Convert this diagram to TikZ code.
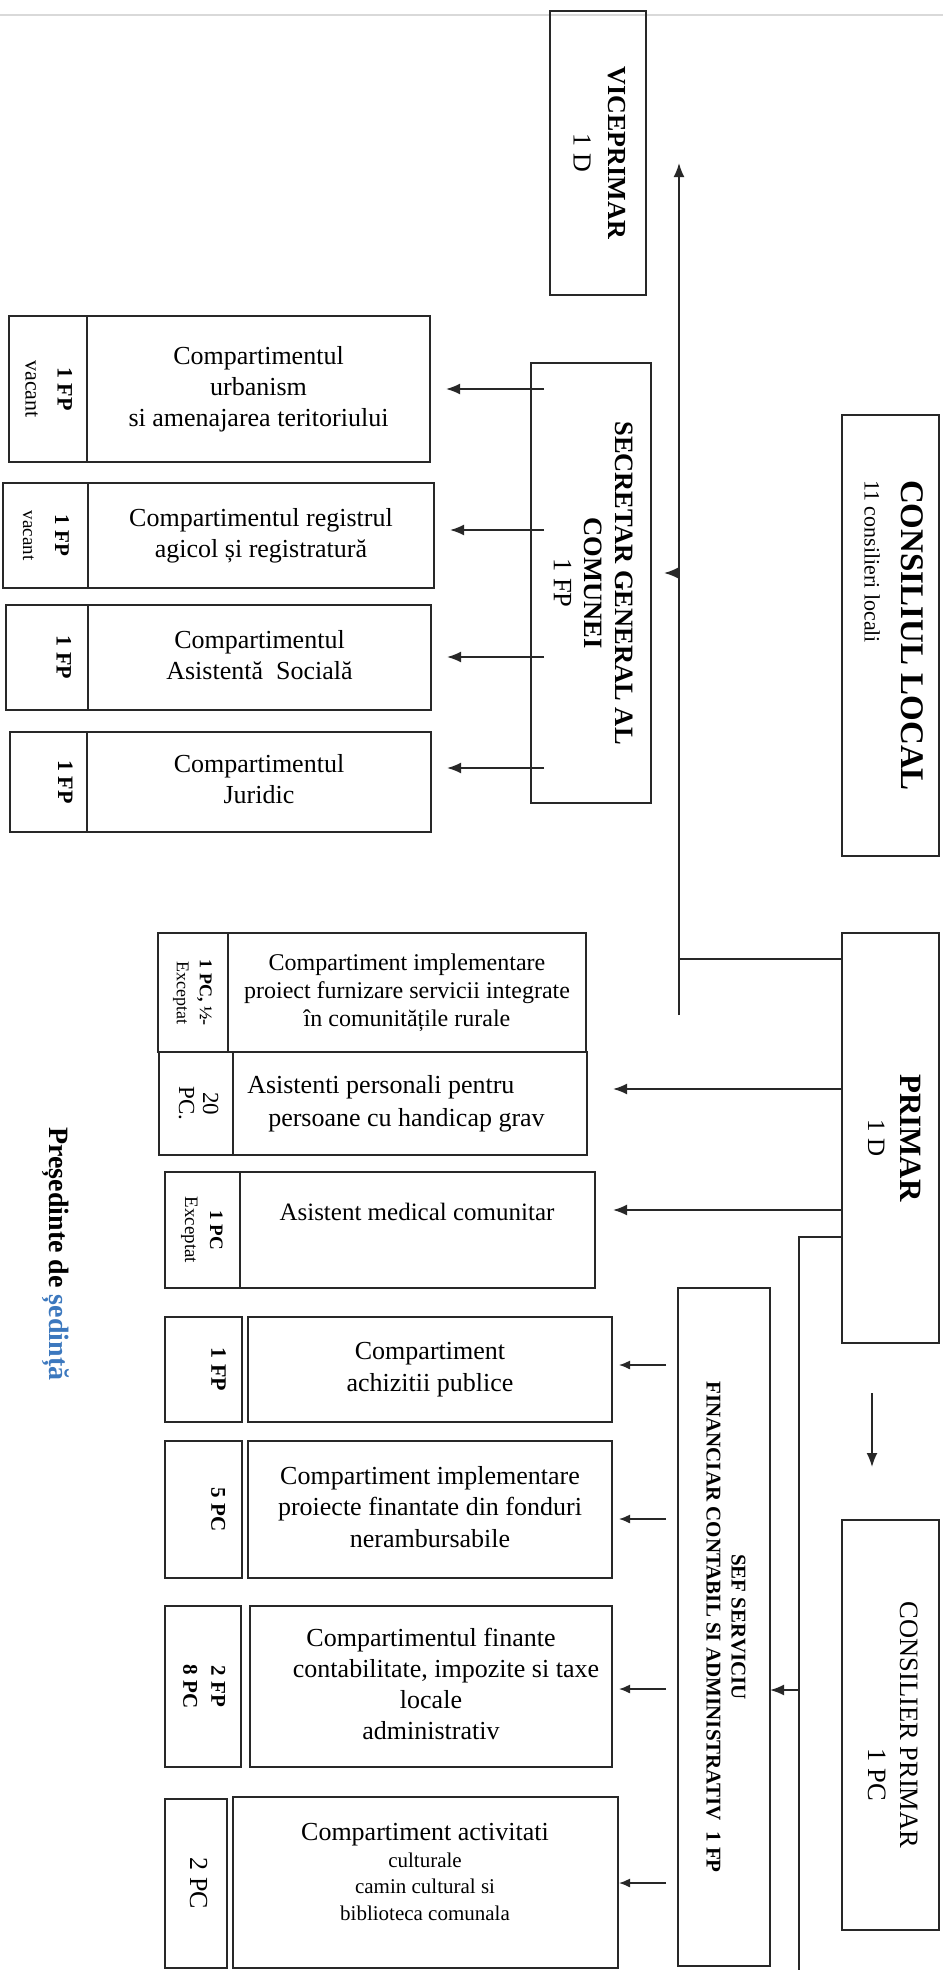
\documentclass[tikz,border=0pt]{standalone}
\usepackage{graphicx}
\usepackage{fontspec}
\setmainfont{Liberation Serif}
\usetikzlibrary{arrows.meta}
\definecolor{stamp}{RGB}{60,120,190}
\definecolor{edge}{RGB}{40,40,40}
\newcommand\HT[3]{{\fontsize{#1}{#2}\selectfont\begin{tabular}{@{}c@{}}#3\end{tabular}}}
\newcommand\RT[3]{\rotatebox{-90}{\fontsize{#1}{#2}\selectfont\begin{tabular}{@{}c@{}}#3\end{tabular}}}
\newcommand\RTL[3]{\rotatebox{-90}{\fontsize{#1}{#2}\selectfont\begin{tabular}{@{}l@{}}#3\end{tabular}}}
\newcommand\BX[7][]{\node[box,minimum width={(#5-#3)*1pt},minimum height={(#6-#4)*1pt},#1] (#2) at ({(#3+#5)/2},{(#4+#6)/2}) {#7};}
\begin{document}
\begin{tikzpicture}[x=1pt,y=-1pt,
  box/.style={draw=edge,line width=1.6pt,inner sep=0pt,outer sep=0pt,rectangle},
  arr/.style={line width=1.8pt,draw=edge,-{Latex[length=14pt,width=11pt]}},
  arrs/.style={line width=1.4pt,draw=edge,-{Latex[length=11pt,width=9pt]}},
  ln/.style={line width=1.6pt,draw=edge},
  txt/.style={inner sep=0pt,outer sep=0pt}]
\useasboundingbox (0,0) rectangle (943,1970);
\fill[white] (0,0) rectangle (943,1970);
\draw[gray!30,line width=2pt] (0,15) -- (943,15);
% top level
\BX{vice}{550}{11}{646}{295}{\RT{26}{35}{\textbf{VICEPRIMAR}\\1 D}}
\BX{cl}{842}{415}{939}{856}{\RTL{22}{37}{{\fontsize{33}{37}\selectfont\bfseries CONSILIUL LOCAL}\\11 consilieri locali}}
\BX{sec}{531}{363}{651}{803}{\RT{26.5}{31}{\textbf{SECRETAR GENERAL AL}\\\textbf{COMUNEI}\\1 FP}}
\BX{prim}{842}{933}{939}{1343}{\RT{25}{32}{{\fontsize{31}{32}\selectfont\bfseries PRIMAR}\\1 D}}
\BX{cons}{842}{1520}{939}{1930}{\RT{26.5}{32}{CONSILIER PRIMAR\\\hspace*{100pt}1 PC}}
\BX{sef}{678}{1288}{770}{1966}{\RT{21}{25}{\textbf{SEF SERVICIU}\\\textbf{FINANCIAR CONTABIL SI ADMINISTRATIV\ \ 1 FP}}}
% secretar compartments
\BX{urbL}{9}{316}{87}{462}{\RT{22}{32}{\textbf{1 FP}\\vacant}}
\BX{urb}{87}{316}{430}{462}{\HT{26}{31}{Compartimentul\\urbanism\\si amenajarea teritoriului}}
\BX{regL}{3}{483}{88}{588}{\RT{21}{32}{\textbf{1 FP}\\{\fontsize{19}{20}\selectfont vacant}}}
\BX{reg}{88}{483}{434}{588}{\HT{26}{31}{Compartimentul registrul\\agicol și registratură}}
\BX{asL}{6}{605}{88}{710}{\RT{22}{32}{\textbf{1 FP}\\\mbox{}}}
\BX{as}{88}{605}{431}{710}{\HT{26}{31}{Compartimentul\\Asistentă\ \ Socială}}
\BX{jurL}{10}{732}{87}{832}{\RT{22}{32}{\textbf{1 FP}\\\mbox{}}}
\BX{jur}{87}{732}{431}{832}{\HT{26}{31}{Compartimentul\\Juridic}}
% primar compartments
\BX{cpL}{158}{933}{228}{1052}{\RT{18}{23}{\textbf{1 PC, ½-}\\Exceptat}}
\BX{cp}{228}{933}{586}{1052}{\HT{24}{28}{Compartiment implementare\\proiect furnizare servicii integrate\\în comunitățile rurale}}
\BX{apL}{159}{1052}{233}{1155}{\RT{23}{24}{20\\PC.}}
\BX{ap}{233}{1052}{587}{1155}{{\fontsize{26}{33}\selectfont\begin{tabular}{@{}l@{}}Asistenti personali pentru\\\hspace*{21pt}persoane cu handicap grav\hspace*{28pt}\end{tabular}}}
\BX{amL}{165}{1172}{240}{1288}{\RT{19}{25}{\textbf{1 PC}\\Exceptat}}
\BX{am}{240}{1172}{595}{1288}{}
\node[txt,font=\fontsize{25}{30}\selectfont] (amT) at (417,1212) {Asistent medical comunitar};
% sef compartments
\BX{acL}{165}{1317}{242}{1422}{\RT{22}{26}{\textbf{1 FP}\\\mbox{}}}
\BX{ac}{248}{1317}{612}{1422}{\HT{26}{32}{Compartiment\\achizitii publice}}
\BX{ifL}{165}{1441}{242}{1578}{\RT{21}{26}{\textbf{5 PC}\\\mbox{}}}
\BX{ifp}{248}{1441}{612}{1578}{\HT{26}{31.5}{Compartiment implementare\\proiecte finantate din fonduri\\nerambursabile}}
\BX{fiL}{165}{1606}{241}{1767}{\RT{21}{28}{\textbf{2 FP}\\\textbf{8 PC}}}
\BX{fi}{250}{1606}{612}{1767}{\HT{26}{31}{Compartimentul finante\\\hspace*{30pt}contabilitate, impozite si taxe\\locale\\administrativ}}
\BX{caL}{165}{1799}{227}{1968}{\RT{26}{30}{2 PC}}
\BX{ca}{233}{1797}{618}{1968}{}
\node[txt] (caT) at (425,1875) {\HT{21}{26.5}{{\fontsize{26}{28}\selectfont Compartiment activitati}\\culturale\\camin cultural si\\biblioteca comunala}};
% signature
\node[txt] (pres) at (55,1254) {\RT{28}{30}{\textbf{Președinte de \textcolor{stamp}{ședință}}}};
% connectors
\coordinate (tT) at (679,163);
\coordinate (tB) at (679,1015);
\coordinate (tJ) at (679,959);
\coordinate (tS) at (679,573);
\draw[ln] (prim.west |- tJ) -- (tJ);
\draw[arr] (tB) -- (tT);
\draw[arr,shorten >=13pt] (tS) -- (sec.east |- tS);
\foreach \t/\yy in {urb/389,reg/530,as/657,jur/768}{
  \coordinate (q) at (0,\yy);
  \draw[arr,shorten <=-13pt,shorten >=16pt] (sec.west |- q) -- (\t.east |- q);
}
\coordinate (p1) at (0,1089);
\draw[arr,shorten >=26pt] (prim.west |- p1) -- (ap.east |- p1);
\coordinate (p2) at (0,1210);
\draw[arr,shorten >=18pt] (prim.west |- p2) -- (am.east |- p2);
\coordinate (sA) at (799,1237);
\coordinate (sB) at (799,1970);
\coordinate (sC) at (799,1690);
\draw[ln] (prim.west |- sA) -- (sA) -- (sB);
\draw[arr] (sC) -- (sef.east |- sC);
\coordinate (cx) at (872,0);
\draw[arr,shorten <=50pt,shorten >=53pt] (prim.south -| cx) -- (cons.north -| cx);
\foreach \t/\yy/\s in {ac/1365/7pt,ifp/1519/7pt,fi/1689/7pt,ca/1883/1pt}{
  \coordinate (q) at (0,\yy);
  \draw[arrs,shorten <=12pt,shorten >=\s] (sef.west |- q) -- (\t.east |- q);
}
\end{tikzpicture}
\end{document}
